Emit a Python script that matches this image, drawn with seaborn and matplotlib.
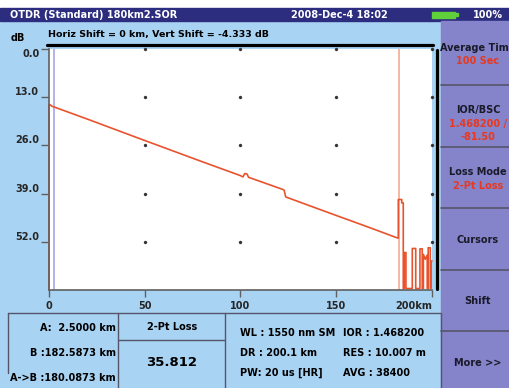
import seaborn as sns
import matplotlib.pyplot as plt
from matplotlib.patches import Rectangle
from matplotlib.lines import Line2D

# trace (distance km, level dB)
trace_km = [0, 0, 0.5, 1.4, 20, 47.5, 58, 80, 99.7, 101.3, 102.2, 103.4, 104.2,
            122.2, 122.8, 123.6, 150, 167.6, 181.6, 182.4, 182.4, 184.2, 184.2,
            185.0, 185.0, 185.5, 185.5, 186.4, 186.4, 189.7, 189.7, 191.5, 191.5,
            193.7, 193.7, 194.9, 194.9, 195.5, 195.5, 196.5, 197.5, 197.5, 198.0,
            198.0, 199.1, 199.1, 199.5, 199.5, 200.0]
trace_db = [64.6, 15.1, 15.0, 15.4, 18.9, 24.2, 26.2, 30.4, 34.1, 34.5, 33.6, 33.7, 34.6,
            37.9, 38.1, 39.9, 44.9, 48.2, 50.9, 51.0, 40.6, 40.6, 41.5,
            41.5, 64.6, 64.6, 54.9, 54.9, 64.6, 64.6, 53.8, 53.8, 64.6,
            64.6, 53.9, 53.9, 64.6, 64.6, 55.4, 56.7, 55.6, 64.6, 64.6,
            53.6, 53.6, 64.6, 64.6, 57.2, 57.2]

grid_km = [50, 100, 150, 200]
grid_db = [0, 13, 26, 39, 52]
x_ticks = [0, 50, 100, 150, 200]
x_labels = ["0", "50", "100", "150", "200km"]
y_ticks = [0, 13, 26, 39, 52]
y_labels = ["0.0", "13.0", "26.0", "39.0", "52.0"]
cursor_a = 2.5
cursor_b = 182.5873

menu_titles = ["Average Time", "IOR/BSC", "Loss Mode", "Cursors", "Shift", "More >>"]
menu_values = [["100 Sec"], ["1.468200 /", "-81.50"], ["2-Pt Loss"], [], [], []]
cursor_info = ["A:  2.5000 km", "B :182.5873 km", "A->B :180.0873 km"]
loss_mode = "2-Pt Loss"
loss_value = "35.812"
params_left = ["WL : 1550 nm SM", "DR : 200.1 km", "PW: 20 us [HR]"]
params_right = ["IOR : 1.468200", "RES : 10.007 m", "AVG : 38400"]

W, H = 510, 388
BG = "#a9d3f3"
NAVY = "#2d2d7f"
PURPLE = "#8583c9"
EDGE = "#55556a"
RED = "#e8381f"
TRACE = "#e8532e"

sns.set_style("white")
plt.rcParams["font.family"] = ["DejaVu Sans"]
plt.rcParams["font.weight"] = "bold"

fig = plt.figure(figsize=(W / 100, H / 100), dpi=100)
fig.patch.set_facecolor(BG)


def fx(px):
    return px / W


def fy(py):
    return 1 - py / H


def box(x0, y0, x1, y1, color):
    fig.patches.append(Rectangle((fx(x0), fy(y1)), fx(x1) - fx(x0), fy(y0) - fy(y1),
                                 transform=fig.transFigure, color=color, zorder=0))


def seg(x0, y0, x1, y1, color=EDGE, lw=1.0):
    fig.add_artist(Line2D([fx(x0), fx(x1)], [fy(y0), fy(y1)], color=color, lw=lw))


def txt(x, y, s, size=7, color="black", ha="center", va="center"):
    fig.text(fx(x), fy(y), s, fontsize=size, color=color, ha=ha, va=va, fontweight="bold")


# title bar
box(0, 0, W, 8, "white")
box(0, 8, W, 21, NAVY)
txt(10, 14.5, "OTDR (Standard) 180km2.SOR", color="white", ha="left")
txt(339, 14.5, "2008-Dec-4 18:02", color="white")
box(432, 11.5, 455, 17.5, "#5fcf3a")
box(455, 13, 458, 16, "#5fcf3a")
txt(473, 14.5, "100%", color="white", ha="left")

# right menu (texts run past the screen edge, as on the device)
box(441, 21, W, H, PURPLE)
for y in [85, 147, 208, 270, 331]:
    seg(441, y, W, y, EDGE, 1.2)
menu_y = [48, 110, 172, 240, 301, 363]
for title, vals, y in zip(menu_titles, menu_values, menu_y):
    txt(478, y, title, color="#1a1a2a")
    for i, v in enumerate(vals):
        txt(478, y + 13.5 * (i + 1), v, color=RED)

# header text
txt(11, 38, "dB", ha="left")
txt(48, 34, "Horiz Shift = 0 km, Vert Shift = -4.333 dB", size=6.8, ha="left")
seg(47, 45, 433, 45, "black", 2.3)
seg(437, 50, 437, 289, "black", 2.3)

# bottom info boxes
seg(8, 313, 441, 313)
seg(8, 313, 8, 373)
seg(118, 313, 118, H)
seg(225, 313, 225, H)
seg(118, 340, 225, 340)
seg(441, 313, 441, H)
for s, y in zip(cursor_info, [328, 353, 378]):
    txt(116, y, s, ha="right")
txt(172, 327, loss_mode)
txt(172, 362, loss_value, size=9.5)
for a, b, y in zip(params_left, params_right, [333, 353, 373]):
    txt(240, y, a, ha="left")
    txt(343, y, b, ha="left")

# trace plot
ax = fig.add_axes([fx(49), fy(290), fx(432) - fx(49), fy(49) - fy(290)])
ax.set_facecolor("white")
ax.axvline(cursor_a, color="#a6a6e6", lw=1.2)
ax.axvline(cursor_b, color="#f3aa92", lw=1.2)

dots_x = [k for k in grid_km for d in grid_db]
dots_y = [d for k in grid_km for d in grid_db]
sns.scatterplot(x=dots_x, y=dots_y, s=5, color="#333333", edgecolor=None, ax=ax, clip_on=False)

sns.lineplot(x=trace_km, y=trace_db, sort=False, estimator=None, color=TRACE, lw=1.2, ax=ax)
ax.lines[-1].set_clip_on(False)

ax.set_xlim(0, 200)
ax.set_ylim(65, 0)
ax.set_xticks(x_ticks)
ax.set_xticklabels(x_labels, fontsize=7, fontweight="bold")
ax.set_yticks(y_ticks)
ax.set_yticklabels(y_labels, fontsize=7, fontweight="bold")
for i, lab in enumerate(ax.get_yticklabels()):
    lab.set_va("top" if i == 0 else "bottom")
ax.get_xticklabels()[-1].set_ha("right")
ax.tick_params(axis="y", length=6, width=1, color="#606060", pad=1, left=True)
ax.tick_params(axis="x", length=5, width=1, color="#606060", pad=3, bottom=True)
ax.set_xlabel("")
ax.set_ylabel("")
for side in ["top", "right"]:
    ax.spines[side].set_visible(False)
for side in ["left", "bottom"]:
    ax.spines[side].set_color("#606060")
    ax.spines[side].set_linewidth(1.2)

fig.savefig("out.png", dpi=100, facecolor=BG)
